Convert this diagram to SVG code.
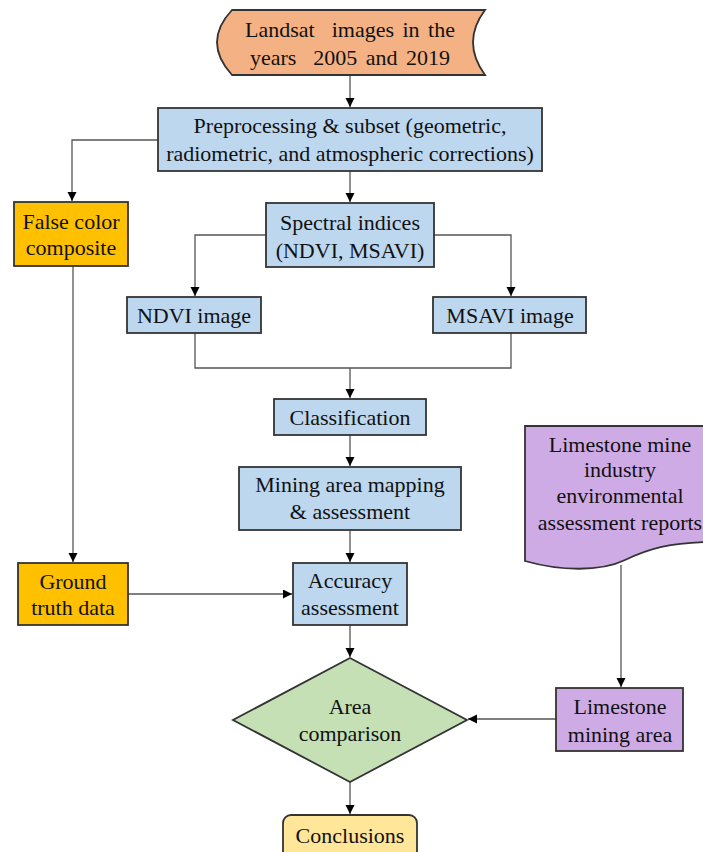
<svg xmlns="http://www.w3.org/2000/svg" width="703" height="852" viewBox="0 0 703 852">
<defs>
<marker id="arr" markerUnits="userSpaceOnUse" markerWidth="10" markerHeight="10" refX="9" refY="4.5" orient="auto">
<path d="M0,0 L9,4.5 L0,9 Z" fill="#000"/>
</marker>
<style>
.n{stroke:#333;stroke-width:1.8}
.blue{fill:#BDD7EE}
.t{font-family:"Liberation Serif","Times New Roman",serif;font-size:22px;fill:#111;text-anchor:middle}
.c{fill:none;stroke:#555;stroke-width:1.3}
.a{marker-end:url(#arr)}
</style>
</defs>
<rect width="703" height="852" fill="#fff"/>
<g id="connectors">
<path class="c a" d="M350,75 V107"/>
<path class="c a" d="M158,140 H72 V201"/>
<path class="c a" d="M350,171 V202"/>
<path class="c a" d="M266,235 H195 V296"/>
<path class="c a" d="M434,235 H511 V296"/>
<path class="c" d="M195,333 V368 H511 V333"/>
<path class="c a" d="M350,368 V398"/>
<path class="c a" d="M350,435 V466"/>
<path class="c a" d="M350,530 V562"/>
<path class="c a" d="M73,266 V562"/>
<path class="c a" d="M128,594 H292"/>
<path class="c a" d="M350,625 V657"/>
<path class="c a" d="M621,565 V687"/>
<path class="c a" d="M556,719 H468"/>
<path class="c a" d="M350,782 V814"/>
</g>
<g id="landsat">
<path class="n" fill="#F4B183" d="M232,10 L485,10 Q461,42 485,75 L232,75 Q202,42 232,10 Z"/>
<text class="t" x="350" y="37" style="white-space:pre" word-spacing="3">Landsat  images in the</text>
<text class="t" x="350" y="65" style="white-space:pre" word-spacing="3">years  2005 and 2019</text>
</g>
<g id="preprocessing">
<rect class="n blue" x="158" y="108" width="384" height="63"/>
<text class="t" x="350" y="133">Preprocessing &amp; subset (geometric,</text>
<text class="t" x="350" y="161">radiometric, and atmospheric corrections)</text>
</g>
<g id="falsecolor">
<rect class="n" fill="#FFC000" x="14" y="202" width="114" height="64"/>
<text class="t" x="71" y="229">False color</text>
<text class="t" x="71" y="255">composite</text>
</g>
<g id="spectral">
<rect class="n blue" x="266" y="203" width="168" height="64"/>
<text class="t" x="350" y="230">Spectral indices</text>
<text class="t" x="350" y="258">(NDVI, MSAVI)</text>
</g>
<g id="ndvi">
<rect class="n blue" x="127" y="297" width="134" height="36"/>
<text class="t" x="194" y="323">NDVI image</text>
</g>
<g id="msavi">
<rect class="n blue" x="433" y="297" width="153" height="36"/>
<text class="t" x="510" y="323">MSAVI image</text>
</g>
<g id="classification">
<rect class="n blue" x="274" y="399" width="152" height="36"/>
<text class="t" x="350" y="425">Classification</text>
</g>
<g id="mining">
<rect class="n blue" x="239" y="467" width="222" height="63"/>
<text class="t" x="350" y="492">Mining area mapping</text>
<text class="t" x="350" y="519">&amp; assessment</text>
</g>
<g id="accuracy">
<rect class="n blue" x="293" y="563" width="114" height="62"/>
<text class="t" x="350" y="588">Accuracy</text>
<text class="t" x="350" y="615">assessment</text>
</g>
<g id="groundtruth">
<rect class="n" fill="#FFC000" x="18" y="563" width="110" height="62"/>
<text class="t" x="73" y="589">Ground</text>
<text class="t" x="73" y="615">truth data</text>
</g>
<g id="reports">
<path class="n" fill="#CFABE6" d="M525,426 H708 V542 C670,543 650,548 625,560 C600,572 560,571 525,561 Z"/>
<text class="t" x="620" y="452">Limestone mine</text>
<text class="t" x="620" y="477">industry</text>
<text class="t" x="620" y="503">environmental</text>
<text class="t" x="620" y="530">assessment reports</text>
</g>
<g id="limestonearea">
<rect class="n" fill="#CFABE6" x="556" y="688" width="127" height="63"/>
<text class="t" x="620" y="714">Limestone</text>
<text class="t" x="620" y="742">mining area</text>
</g>
<g id="areacomparison">
<path class="n" fill="#C5E0B4" d="M350,658 L467,720 L350,782 L233,720 Z"/>
<text class="t" x="350" y="714">Area</text>
<text class="t" x="350" y="741">comparison</text>
</g>
<g id="conclusions">
<rect class="n" fill="#FFE699" x="283" y="815" width="134" height="50" rx="8"/>
<text class="t" x="350" y="843">Conclusions</text>
</g>
</svg>
